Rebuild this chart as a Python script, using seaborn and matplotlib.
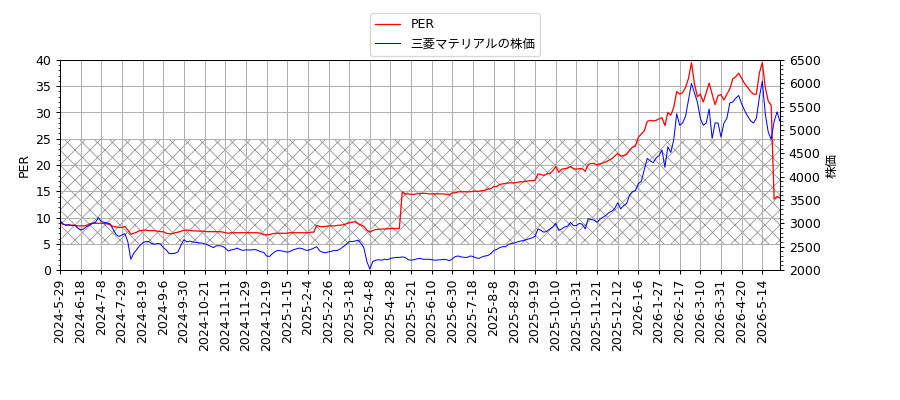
import numpy as np
import matplotlib
matplotlib.use("Agg")
import matplotlib.pyplot as plt
import seaborn as sns
from matplotlib.ticker import AutoMinorLocator, MultipleLocator

# 14営業日ごとの目盛りラベル
tick_labels = [
    "2024-5-29", "2024-6-18", "2024-7-8", "2024-7-29", "2024-8-19", "2024-9-6",
    "2024-9-30", "2024-10-21", "2024-11-11", "2024-11-29", "2024-12-19",
    "2025-1-15", "2025-2-4", "2025-2-26", "2025-3-18", "2025-4-8", "2025-4-28",
    "2025-5-21", "2025-6-10", "2025-6-30", "2025-7-18", "2025-8-8", "2025-8-29",
    "2025-9-19", "2025-10-10", "2025-10-31", "2025-11-21", "2025-12-12",
    "2026-1-6", "2026-1-27", "2026-2-17", "2026-3-10", "2026-3-31", "2026-4-20",
    "2026-5-14",
]

# 2営業日おきに読み取った値
per = [
    9.1, 8.7, 8.6, 8.55, 8.55, 8.5, 8.4, 8.4, 8.4, 8.5, 8.8, 8.9, 8.9, 8.9,
    8.9, 8.85, 8.8, 8.6, 8.3, 8.2, 8.1, 8.1, 8.3, 7.6, 6.8, 7.0, 7.2, 7.5,
    7.55, 7.6, 7.5, 7.5, 7.5, 7.4, 7.3, 7.3, 7.0, 6.9, 6.9, 7.1, 7.2, 7.4,
    7.55, 7.6, 7.55, 7.45, 7.45, 7.4, 7.4, 7.35, 7.3, 7.3, 7.3, 7.3, 7.3, 7.25,
    7.1, 7.0, 7.1, 7.1, 7.1, 7.1, 7.1, 7.1, 7.1, 7.1, 7.1, 7.1, 7.0, 6.7,
    6.7, 6.75, 6.9, 7.0, 7.0, 7.0, 7.0, 7.0, 7.1, 7.1, 7.1, 7.1, 7.1, 7.1,
    7.1, 7.2, 7.2, 8.5, 8.3, 8.25, 8.3, 8.4, 8.4, 8.4, 8.5, 8.55, 8.6, 8.8,
    9.0, 9.1, 9.2, 8.8, 8.6, 8.3, 7.6, 7.2, 7.5, 7.7, 7.75, 7.8, 7.8, 7.85,
    7.9, 7.9, 7.9, 7.9, 14.9, 14.5, 14.5, 14.4, 14.4, 14.5, 14.6, 14.6, 14.6, 14.5,
    14.5, 14.5, 14.5, 14.5, 14.5, 14.4, 14.3, 14.7, 14.7, 14.9, 14.9, 14.9, 14.9, 14.9,
    15.0, 15.0, 15.0, 15.1, 15.2, 15.4, 15.5, 15.9, 15.9, 16.3, 16.4, 16.5, 16.6, 16.6,
    16.6, 16.7, 16.8, 16.8, 16.9, 17.0, 17.0, 17.1, 18.3, 18.2, 18.0, 18.3, 18.4, 18.9,
    19.7, 18.6, 19.2, 19.3, 19.4, 19.7, 19.3, 19.2, 19.3, 19.3, 18.8, 20.1, 20.3, 20.3,
    20.0, 20.2, 20.4, 20.6, 20.9, 21.2, 21.7, 22.2, 21.7, 21.8, 22.0, 22.8, 23.4, 23.6,
    25.3, 25.9, 26.5, 28.3, 28.5, 28.4, 28.5, 28.8, 29.0, 27.5, 30.0, 29.5, 31.0, 34.0,
    33.5, 33.8, 34.8, 36.5, 39.5, 35.5, 33.0, 33.5, 32.0, 33.8, 35.6, 33.5, 31.5, 33.2,
    33.4, 32.4, 33.5, 34.5, 36.4, 36.8, 37.5, 36.5, 35.5, 34.8, 34.0, 33.5, 33.5, 37.5,
    39.5, 34.8, 32.2, 31.4, 13.5, 14.0, 13.7,
]

price = [
    3060, 2990, 2960, 2970, 2950, 2960, 2900, 2860, 2880, 2930, 2960, 3000, 3020, 3120,
    3040, 3020, 3010, 2990, 2870, 2760, 2720, 2750, 2780, 2600, 2230, 2360, 2440, 2520,
    2580, 2610, 2610, 2570, 2550, 2570, 2560, 2480, 2430, 2350, 2350, 2360, 2390, 2530,
    2650, 2600, 2620, 2600, 2590, 2580, 2580, 2560, 2540, 2510, 2480, 2520, 2520, 2510,
    2470, 2410, 2430, 2440, 2470, 2440, 2420, 2430, 2430, 2430, 2440, 2420, 2390, 2380,
    2300, 2290, 2350, 2400, 2420, 2410, 2400, 2380, 2400, 2430, 2450, 2470, 2460, 2430,
    2420, 2440, 2470, 2500, 2410, 2380, 2370, 2390, 2400, 2420, 2420, 2450, 2500, 2550,
    2610, 2610, 2620, 2640, 2570, 2470, 2180, 2020, 2180, 2210, 2220, 2210, 2230, 2220,
    2250, 2260, 2270, 2270, 2280, 2270, 2220, 2210, 2220, 2240, 2250, 2230, 2230, 2230,
    2220, 2210, 2215, 2220, 2230, 2220, 2200, 2240, 2290, 2300, 2280, 2270, 2270, 2300,
    2290, 2260, 2250, 2280, 2300, 2310, 2350, 2420, 2440, 2480, 2500, 2500, 2550, 2570,
    2580, 2600, 2620, 2630, 2650, 2670, 2690, 2720, 2880, 2850, 2810, 2830, 2880, 2920,
    3000, 2850, 2880, 2920, 2940, 3020, 2950, 2950, 3000, 2980, 2880, 3100, 3080, 3070,
    3020, 3090, 3130, 3170, 3230, 3260, 3320, 3440, 3310, 3380, 3420, 3600, 3680, 3700,
    3850, 3900, 4150, 4390, 4340, 4300, 4400, 4450, 4570, 4200, 4640, 4520, 4800, 5350,
    5100, 5150, 5300, 5650, 6000, 5800, 5600, 5250, 5100, 5150, 5450, 4820, 5150, 5150,
    4850, 5150, 5250, 5580, 5600, 5680, 5740, 5560, 5420, 5300, 5200, 5150, 5250, 5700,
    6050, 5350, 4960, 4800, 5180, 5390, 5180,
]

day = np.arange(len(per)) * 2
tick_pos = np.arange(len(tick_labels)) * 14

plt.rcParams['font.family'] = ['DejaVu Sans', 'Noto Sans CJK JP']
plt.rcParams['hatch.linewidth'] = 0.7

fig, ax1 = plt.subplots(figsize=(10, 400/90), dpi=90)
fig.subplots_adjust(left=60/900, right=780/900, top=1-60/400, bottom=1-270/400)

# PER 5〜25 の網掛け帯
ax1.fill_between([day[0], day[-1]], 5, 25, facecolor='none', edgecolor='#999999',
                 hatch='xx', linewidth=0)
sns.lineplot(x=day, y=per, ax=ax1, color='red', linewidth=1, label='PER', legend=False)
ax1.set_ylim(0, 40)
ax1.set_xlim(day[0], day[-1])
ax1.set_ylabel("PER")
ax1.set_xticks(tick_pos)
ax1.set_xticklabels(tick_labels, rotation=90)
ax1.yaxis.set_major_locator(MultipleLocator(5))
ax1.yaxis.set_minor_locator(AutoMinorLocator())
ax1.grid(True)

ax2 = ax1.twinx()
sns.lineplot(x=day, y=price, ax=ax2, color='blue', linewidth=0.8,
             label='三菱マテリアルの株価', legend=False)
ax2.set_ylim(2000, 6500)
ax2.set_ylabel("株価")
ax2.yaxis.set_major_locator(MultipleLocator(500))
ax2.yaxis.set_minor_locator(AutoMinorLocator())

lines = ax1.get_lines() + ax2.get_lines()
fig.legend(lines, [l.get_label() for l in lines], loc='upper center',
           bbox_to_anchor=(0.506, 0.982))

plt.savefig("out.png", dpi=90)
